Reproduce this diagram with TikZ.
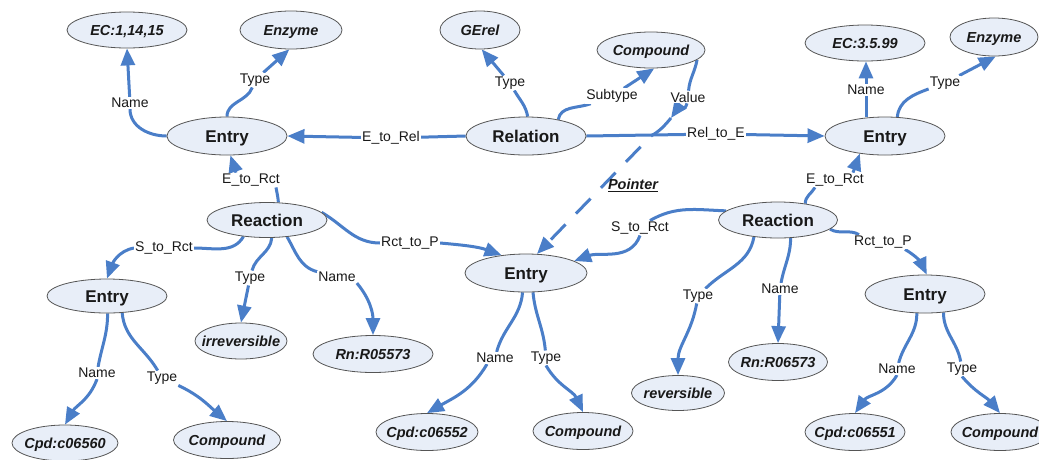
\documentclass[tikz,border=0pt]{standalone}
\usepackage{fontspec}
\setmainfont{Liberation Sans}
\usetikzlibrary{shapes.geometric,arrows.meta,backgrounds}

\definecolor{linkblue}{RGB}{74,126,200}
\definecolor{conceptfill}{RGB}{232,238,248}
\definecolor{conceptrim}{RGB}{85,85,85}
\definecolor{inktext}{RGB}{25,25,25}

% text of a concept: takes no room, so the ellipse keeps its given size
\newcommand{\conceptword}[1]{\makebox[0pt]{\raisebox{-0.36em}[0pt][0pt]{#1}}}

\tikzset{
  concept/.style={ellipse, draw=conceptrim, line width=0.8pt, fill=conceptfill,
    inner sep=0pt, text=inktext, font=\fontsize{17}{20}\selectfont\bfseries},
  valueconcept/.style={concept, font=\fontsize{14.5}{17}\selectfont\bfseries\itshape},
  sized/.style 2 args={minimum width=#1pt, minimum height=#2pt},
  linkword/.style={fill=white, inner sep=1pt, text=inktext,
    font=\fontsize{14}{16}\selectfont},
  link/.style={draw=linkblue, line width=3pt},
  linkarr/.style={link, -{Triangle[length=17pt,width=14pt]}},
}

\begin{document}
\begin{tikzpicture}[x=1pt,y=1pt]
\useasboundingbox (0,0) rectangle (1039,-459);
\clip (0,0) rectangle (1039,-459);

% ---- concepts ----
\node[concept,sized={120}{38}] (eTL) at (227,-136) {\conceptword{Entry}};
\node[concept,sized={120}{38}] (rel) at (526,-136) {\conceptword{Relation}};
\node[concept,sized={120}{38}] (eTR) at (885,-136) {\conceptword{Entry}};
\node[concept,sized={120}{35}] (rxL) at (267,-220) {\conceptword{Reaction}};
\node[concept,sized={119}{36}] (rxR) at (778,-220) {\conceptword{Reaction}};
\node[concept,sized={120}{34}] (eBL) at (107,-296) {\conceptword{Entry}};
\node[concept,sized={122}{38}] (eC)  at (526,-273) {\conceptword{Entry}};
\node[concept,sized={120}{38}] (eBR) at (925,-294) {\conceptword{Entry}};

\node[valueconcept,sized={120}{36}] (cEC1)   at (127,-30)  {\conceptword{EC:1,14,15}};
\node[valueconcept,sized={102}{38}] (cEnz1)  at (291,-30)  {\conceptword{Enzyme}};
\node[valueconcept,sized={80}{38}]  (cGE)    at (480,-30)  {\conceptword{GErel}};
\node[valueconcept,sized={108}{36}] (cCmpT)  at (651,-50)  {\conceptword{Compound}};
\node[valueconcept,sized={120}{36}] (cEC2)   at (865,-43)  {\conceptword{EC:3.5.99}};
\node[valueconcept,sized={88}{38}]  (cEnz2)  at (994,-37)  {\conceptword{Enzyme}};
\node[valueconcept,sized={92}{36}]  (cIrr)   at (241,-341) {\conceptword{irreversible}};
\node[valueconcept,sized={120}{37}] (cRn1)   at (373,-354) {\conceptword{Rn:R05573}};
\node[valueconcept,sized={106}{36}] (cCpd1)  at (65,-443)  {\conceptword{Cpd:c06560}};
\node[valueconcept,sized={107}{37}] (cCmpBL) at (227,-440) {\conceptword{Compound}};
\node[valueconcept,sized={102}{37}] (cCpd2)  at (427,-432) {\conceptword{Cpd:c06552}};
\node[valueconcept,sized={100}{37}] (cCmpC)  at (583,-431) {\conceptword{Compound}};
\node[valueconcept,sized={93}{35}]  (cRev)   at (678,-393) {\conceptword{reversible}};
\node[valueconcept,sized={99}{37}]  (cRn2)   at (778,-362) {\conceptword{Rn:R06573}};
\node[valueconcept,sized={100}{37}] (cCpd3)  at (855,-432) {\conceptword{Cpd:c06551}};
\node[valueconcept,sized={98}{37}]  (cCmpR)  at (1000,-432) {\conceptword{Compound}};

% ---- linking phrases ----
\node[linkword] (lN1)      at (130,-103) {Name};
\node[linkword] (lT1)      at (255,-80)  {Type};
\node[linkword] (lEtoRel)  at (391,-138) {E\_to\_Rel};
\node[linkword] (lT2)      at (510,-83)  {Type};
\node[linkword] (lSub)     at (612,-96)  {Subtype};
\node[linkword] (lVal)     at (688,-97)  {Value};
\node[linkword] (lRtoE)    at (716,-134) {Rel\_to\_E};
\node[linkword] (lN2)      at (866,-90)  {Name};
\node[linkword] (lT3)      at (945,-83)  {Type};
\node[linkword] (lEtoRct1) at (251,-180) {E\_to\_Rct};
\node[linkword] (lStoRct1) at (164,-248) {S\_to\_Rct};
\node[linkword] (lT4)      at (250,-278) {Type};
\node[linkword] (lN3)      at (337,-277) {Name};
\node[linkword] (lRtoP1)   at (410,-243) {Rct\_to\_P};
\node[linkword] (lNC)      at (495,-358) {Name};
\node[linkword] (lTC)      at (546,-358) {Type};
\node[linkword] (lStoRct2) at (640,-228) {S\_to\_Rct};
\node[linkword] (lT5)      at (698,-296) {Type};
\node[linkword] (lN4)      at (780,-289) {Name};
\node[linkword] (lRtoP2)   at (883,-242) {Rct\_to\_P};
\node[linkword] (lEtoRct2) at (835,-180) {E\_to\_Rct};
\node[linkword] (lN5)      at (897,-369) {Name};
\node[linkword] (lT6)      at (962,-369) {Type};
\node[linkword] (lNBL)     at (97,-373)  {Name};
\node[linkword] (lTBL)     at (162,-378) {Type};

\node[text=inktext, font=\fontsize{14.5}{17}\selectfont\bfseries\itshape]
  (ptr) at (633,-185) {\underline{Pointer}};

% junction of the pointer on the Rel_to_E link
\coordinate (J) at (651,-136);
\coordinate (vTip) at (671,-118);

% ---- connections ----
\begin{scope}[on background layer]
  % upper left entry
  \draw[link] (eTL.west) to[out=180,in=-90] (lN1);
  \draw[linkarr] (lN1) -- (cEC1.south);
  \draw[link] (eTL.north) to[out=90,in=-110] (lT1);
  \draw[linkarr] (lT1) -- (cEnz1.265);
  % relation
  \draw[link] (rel.west) -- (lEtoRel);
  \draw[linkarr] (lEtoRel) -- (eTL.east);
  \draw[link] (rel.85) to[out=100,in=-60] (lT2);
  \draw[linkarr] (lT2) -- (cGE.-85);
  \draw[link] (rel.27) to[out=80,in=200] (lSub);
  \draw[linkarr] (lSub) -- (cCmpT.-80);
  \draw[link] (rel.east) -- (lRtoE);
  \draw[linkarr] (lRtoE) -- (eTR.west);
  % value pointer
  \draw[link] (cCmpT.-12) to[out=-100,in=85] (lVal);
  \draw[linkarr] (lVal) to[out=-100,in=55] (vTip);
  \draw[link] (vTip) to[out=-130,in=30] (J);
  \draw[linkarr, dash pattern=on 21pt off 15pt, dash phase=21pt] (J) -- (eC.60);
  % upper right entry
  \draw[link] (eTR.north -| lN2) -- (lN2);
  \draw[linkarr] (lN2) -- (lN2 |- cEC2.south);
  \draw[link] (eTR.57) to[out=85,in=200] (lT3);
  \draw[linkarr] (lT3) -- (cEnz2.-85);
  % left reaction
  \draw[link] (rxL.57) to[out=95,in=-80] ([xshift=-5pt]lEtoRct1.south east);
  \draw[linkarr] ([xshift=-15pt]lEtoRct1.north) -- (eTL.-80);
  \draw[link] (rxL.215) to[out=-120,in=0] (lStoRct1.east);
  \draw[linkarr] (lStoRct1.west) to[out=190,in=70] (eBL.north);
  \draw[link] (rxL.-75) to[out=-95,in=75] (lT4);
  \draw[linkarr] (lT4) -- (cIrr.north);
  \draw[link] (rxL.-40) to[out=-60,in=165] (lN3);
  \draw[linkarr] (lN3.south east) to[out=-50,in=90] (cRn1.north);
  \draw[link] (rxL.8) to[out=-30,in=180] (lRtoP1.west);
  \draw[linkarr] (lRtoP1.east) to[out=-5,in=160] (eC.144);
  % centre entry
  \draw[link] (eC.-100) to[out=-95,in=75] (lNC);
  \draw[linkarr] ([xshift=-8pt]lNC.south) to[out=-120,in=30] (cCpd2.north);
  \draw[link] (eC.-70) to[out=-85,in=95] (lTC);
  \draw[linkarr] (lTC.south) to[out=-60,in=115] (cCmpC.north);
  % right reaction
  \draw[link] (rxR.170) to[out=178,in=30] ([xshift=10pt]lStoRct2.north);
  \draw[linkarr] (lStoRct2.south) to[out=-110,in=20] (eC.14);
  \draw[link] (rxR.-145) to[out=-100,in=45] (lT5);
  \draw[linkarr] (lT5) to[out=-100,in=90] (cRev.north);
  \draw[link] (rxR.-55) to[out=-90,in=80] (lN4);
  \draw[linkarr] (lN4) -- (cRn2.north);
  \draw[link] (rxR.-10) to[out=-30,in=150] ([xshift=6pt]lRtoP2.north west);
  \draw[linkarr] ([xshift=-8pt]lRtoP2.south east) to[out=-30,in=115] (eBR.85);
  \draw[link] (rxR.31) to[out=90,in=-120] ([xshift=10pt]lEtoRct2.south west);
  \draw[linkarr] ([xshift=-12pt]lEtoRct2.north east) -- (eTR.-145);
  % lower right entry
  \draw[link] (eBR.-113) to[out=-90,in=75] (lN5);
  \draw[linkarr] (lN5.south) to[out=-120,in=55] (cCpd3.north);
  \draw[link] (eBR.-45) to[out=-90,in=100] (lT6);
  \draw[linkarr] (lT6.south) to[out=-50,in=130] (cCmpR.north);
  % lower left entry
  \draw[link] (eBL.-88) to[out=-90,in=80] (lNBL);
  \draw[linkarr] (lNBL.south) to[out=-110,in=60] (cCpd1.north);
  \draw[link] (eBL.-48) to[out=-85,in=120] (lTBL);
  \draw[linkarr] (lTBL.south east) to[out=-25,in=140] (cCmpBL.north);
\end{scope}
\end{tikzpicture}
\end{document}
